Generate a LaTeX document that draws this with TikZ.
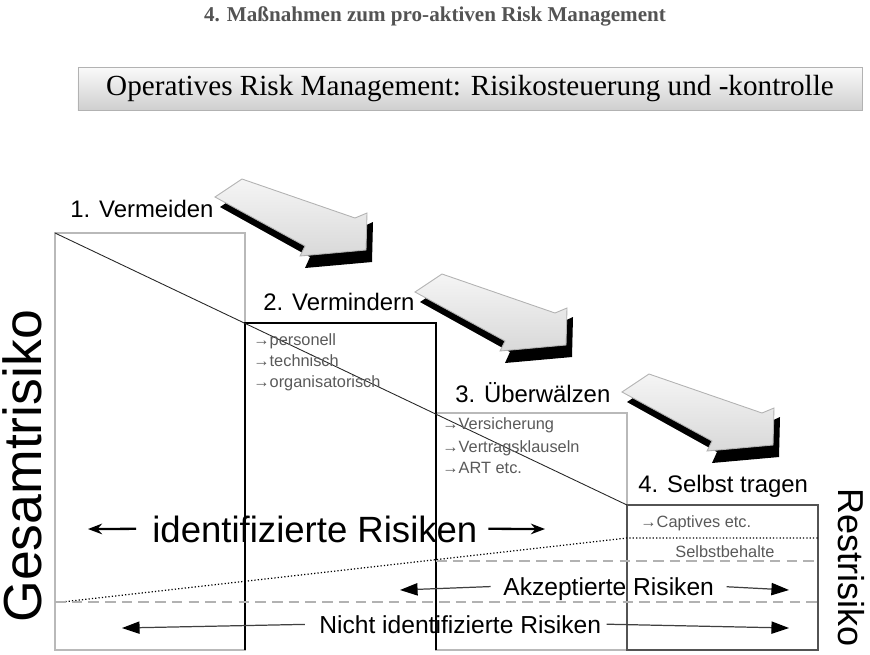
\documentclass[tikz,border=0pt]{standalone}
\usepackage{fontspec}
\setmainfont{Liberation Serif}
\setsansfont{Liberation Sans}
\usetikzlibrary{arrows.meta, shadows}

\tikzstyle{titel}     = [font=\rmfamily\bfseries\fontsize{12}{14}\selectfont, text=gray!65!black, inner sep=0pt, anchor=base]
\tikzstyle{banner}    = [draw=gray!60, top color=gray!4, bottom color=gray!38, minimum width=156.8mm, minimum height=8.6mm, inner sep=0pt, font=\rmfamily\fontsize{16.6}{19}\selectfont, drop shadow={shadow xshift=0.6pt, shadow yshift=-0.8pt, fill=gray!70}]
\tikzstyle{stufe}     = [font=\sffamily\fontsize{13.6}{16}\selectfont, inner sep=0pt, anchor=base west]
\tikzstyle{liste}     = [font=\sffamily\fontsize{9.3}{11}\selectfont, text=gray!70!black, inner sep=0pt, anchor=base west]
\tikzstyle{risiko}    = [font=\sffamily\fontsize{14}{16}\selectfont, inner sep=0pt, text depth=0pt, anchor=base west]
\tikzstyle{achse}     = [inner sep=0pt, anchor=base west]
\tikzstyle{kasten}    = [draw=gray!65!black, line width=0.6pt]
\tikzstyle{blockpfeil} = [draw=gray!60, line width=0.5pt, top color=gray!8, bottom color=gray!30]
\tikzstyle{pfeil}     = [line width=0.7pt, draw=gray!50!black, -{Triangle[length=10pt,width=7pt,black]}]
\tikzstyle{dickpfeil} = [line width=1.3pt, -{Stealth[length=8pt,width=6pt]}]

\begin{document}
\begin{tikzpicture}[x=0.2mm, y=-0.2mm]
    \useasboundingbox (0,0) rectangle (870,654);

    % Ueberschrift
    \node[titel] (titel) at (435,21) {4. Maßnahmen zum pro-aktiven Risk Management};
    \node[banner] (ops) at (470,88.5) {Operatives Risk Management: Risikosteuerung und -kontrolle};

    % Eckpunkte der Stufen
    \coordinate (k1) at (55,233);
    \coordinate (k2) at (245,323);
    \coordinate (k3) at (436,413);
    \coordinate (k4) at (627,505);

    % Kaesten
    \draw[kasten, draw=gray!55] (k1) rectangle (245,650);
    \draw[kasten, draw=gray!55] (k3) rectangle (627,650);
    \draw[kasten] (k4) rectangle (818,650);
    \draw[kasten, draw=black] (436,650) -- (436,323) -- (k2) -- (245,650);
    \draw[black, line width=1.2pt] (k2) -- (436,323);

    % Gesamtrisiko -> Restrisiko
    \draw[line width=0.5pt, gray!30!black] (k1) -- (k4);

    % Linien unten
    \coordinate (d0) at (62,602);
    \coordinate (d1) at (627,538);
    \coordinate (d2) at (818,538);
    \draw[line width=0.7pt, dash pattern=on 0.7pt off 1.2pt] (d0) -- (d1) -- (d2);
    \draw[gray!60, line width=0.8pt, dash pattern=on 6pt off 3.5pt] (55,602) -- (818,602);
    \draw[gray!60, line width=0.8pt, dash pattern=on 6pt off 3.5pt] (436,561) -- (818,561);

    % 3D-Pfeile
    \foreach \dx/\dy in {0/0, 200/95, 407/195}{
        \begin{scope}[shift={(\dx,\dy)}]
            \fill[black] (220,207) -- (247,189) -- (360,228) -- (373,222) -- (372,262) -- (305,268) -- (310,257) -- cycle;
            \draw[blockpfeil] (215,197) -- (242,179) -- (355,218) -- (367,213) -- (366,250) -- (300,256) -- (305,246) -- cycle;
        \end{scope}
    }

    % Stufen
    \node[stufe] (vermeiden) at (70,217) {1. Vermeiden};
    \node[stufe] (vermindern) at (263,310) {2. Vermindern};
    \node[stufe] (ueberwaelzen) at (455,402) {3. Überwälzen};
    \node[stufe] (selbst) at (638,492) {4. Selbst tragen};

    % Massnahmen
    \node[liste] (personell) at (253,345) {→personell};
    \node[liste] (technisch) at (253,366) {→technisch};
    \node[liste] (organisatorisch) at (253,387) {→organisatorisch};
    \node[liste] (versicherung) at (442,429) {→Versicherung};
    \node[liste] (vertrag) at (442,452) {→Vertragsklauseln};
    \node[liste] (art) at (442,473) {→ART etc.};
    \node[liste] (captives) at (640,527) {→Captives etc.};
    \node[liste, anchor=base] (selbstbehalte) at (725,557) {Selbstbehalte};

    % Risiken
    \node[risiko, font=\sffamily\fontsize{20.8}{24}\selectfont] (ident) at (152,542) {identifizierte Risiken};
    \node[risiko] (akzeptiert) at (503,595) {Akzeptierte Risiken};
    \node[risiko] (nicht) at (319,633) {Nicht identifizierte Risiken};

    \coordinate (iL) at (88,529);
    \coordinate (iR) at (545,529);
    \coordinate (aL) at (400,590);
    \coordinate (aR) at (789,590);
    \coordinate (nL) at (122,628);
    \coordinate (nR) at (789,628);
    \draw[dickpfeil, shorten <=9pt] (ident.west) -- (iL);
    \draw[dickpfeil, shorten <=6pt] (ident.east) -- (iR);
    \draw[pfeil, shorten <=7pt] (akzeptiert.west) -- (aL);
    \draw[pfeil, shorten <=7pt] (akzeptiert.east) -- (aR);
    \draw[pfeil, shorten <=8pt] (nicht.west) -- (nL);
    \draw[pfeil, shorten <=3pt] (nicht.east) -- (nR);

    % Achsen
    \node[achse, rotate=90, font=\sffamily\fontsize{30.5}{34}\selectfont] (gesamt) at (41,623) {Gesamtrisiko};
    \node[achse, rotate=-90, font=\sffamily\fontsize{20.5}{24}\selectfont] (rest) at (838,488) {Restrisiko};

\end{tikzpicture}
\end{document}
